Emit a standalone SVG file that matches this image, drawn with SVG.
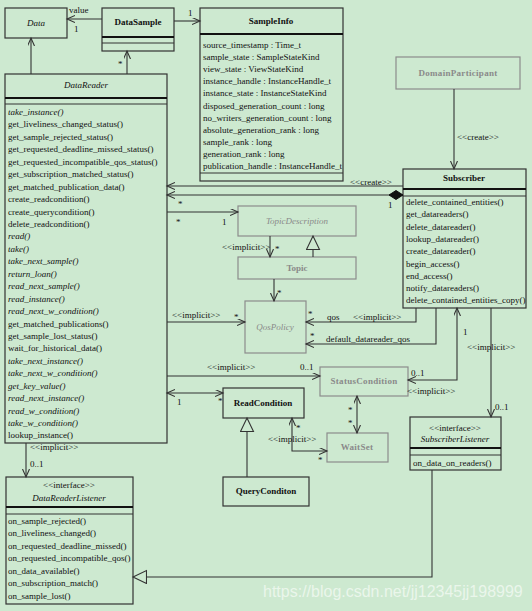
<svg xmlns="http://www.w3.org/2000/svg" width="532" height="611" viewBox="0 0 532 611">
<style>
text{font-family:"Liberation Serif","Times New Roman",serif;font-size:9px;fill:#111}
.b{font-weight:bold}
.i{font-style:italic}
.c{text-anchor:middle}
.g{fill:#8a8a8a}
.box{fill:none;stroke:#333;stroke-width:1.2}
.gbox{fill:none;stroke:#8c8c8c;stroke-width:1.2}
.thick{stroke:#111;stroke-width:2}
.sep{stroke:#333;stroke-width:1}
.conn path{fill:none;stroke:#333;stroke-width:1.1}
.a{marker-end:url(#arr)}
.aa{marker-start:url(#arr);marker-end:url(#arr)}
.t{marker-end:url(#tri)}
.wm{font-family:"Liberation Sans",Arial,sans-serif;font-size:16px;fill:#ffffff;fill-opacity:0.6}
</style>
<defs>
<marker id="arr" markerWidth="10" markerHeight="10" refX="8" refY="3.5" orient="auto-start-reverse" markerUnits="userSpaceOnUse">
<path d="M0,0 L8,3.5 L0,7" fill="none" stroke="#333" stroke-width="1.1"/>
</marker>
<marker id="tri" markerWidth="16" markerHeight="16" refX="14" refY="7" orient="auto" markerUnits="userSpaceOnUse">
<path d="M0.5,0.5 L14,7 L0.5,13.5 z" fill="#cde9d0" stroke="#333" stroke-width="1.1"/>
</marker>
<marker id="dia" markerWidth="16" markerHeight="12" refX="15" refY="5" orient="auto" markerUnits="userSpaceOnUse">
<path d="M1,5 L8,0.5 L15,5 L8,9.5 z" fill="#111" stroke="#111"/>
</marker>
</defs>
<rect width="532" height="611" fill="#cde9d0"/>

<g id="Data">
<rect class="box" x="5" y="8" width="62" height="30"/>
<text class="i c" x="36" y="26">Data</text>
</g>
<g id="DataSample">
<rect class="box" x="102" y="8" width="72" height="43"/>
<line class="thick" x1="102" y1="37" x2="174" y2="37"/>
<line class="sep" x1="102" y1="43" x2="174" y2="43"/>
<text class="b c" x="138" y="25">DataSample</text>
</g>
<g id="SampleInfo">
<rect class="box" x="200" y="8" width="143" height="173"/>
<line class="thick" x1="200" y1="34" x2="343" y2="34"/>
<line class="sep" x1="200" y1="173" x2="343" y2="173"/>
<text class="b c" x="271" y="24">SampleInfo</text>
<text x="203" y="48">source_timestamp : Time_t</text>
<text x="203" y="60.1">sample_state : SampleStateKind</text>
<text x="203" y="72.2">view_state : ViewStateKind</text>
<text x="203" y="84.3">instance_handle : InstanceHandle_t</text>
<text x="203" y="96.4">instance_state : InstanceStateKind</text>
<text x="203" y="108.5">disposed_generation_count : long</text>
<text x="203" y="120.6">no_writers_generation_count : long</text>
<text x="203" y="132.7">absolute_generation_rank : long</text>
<text x="203" y="144.8">sample_rank : long</text>
<text x="203" y="156.9">generation_rank : long</text>
<text x="203" y="169">publication_handle : InstanceHandle_t</text>
</g>
<g id="DataReader">
<rect class="box" x="5" y="74" width="162" height="369"/>
<line class="thick" x1="5" y1="98" x2="167" y2="98"/>
<line class="sep" x1="5" y1="104" x2="167" y2="104"/>
<text class="i c" x="86" y="88">DataReader</text>
<text x="8" y="115" class="i">take_instance()</text>
<text x="8" y="127.4">get_liveliness_changed_status()</text>
<text x="8" y="139.9">get_sample_rejected_status()</text>
<text x="8" y="152.3">get_requested_deadline_missed_status()</text>
<text x="8" y="164.8">get_requested_incompatible_qos_status()</text>
<text x="8" y="177.2">get_subscription_matched_status()</text>
<text x="8" y="189.6">get_matched_publication_data()</text>
<text x="8" y="202.1">create_readcondition()</text>
<text x="8" y="214.5">create_querycondition()</text>
<text x="8" y="227">delete_readcondition()</text>
<text x="8" y="239.4" class="i">read()</text>
<text x="8" y="251.8" class="i">take()</text>
<text x="8" y="264.3" class="i">take_next_sample()</text>
<text x="8" y="276.7" class="i">return_loan()</text>
<text x="8" y="289.2" class="i">read_next_sample()</text>
<text x="8" y="301.6" class="i">read_instance()</text>
<text x="8" y="314" class="i">read_next_w_condition()</text>
<text x="8" y="326.5">get_matched_publications()</text>
<text x="8" y="338.9">get_sample_lost_status()</text>
<text x="8" y="351.4">wait_for_historical_data()</text>
<text x="8" y="363.8" class="i">take_next_instance()</text>
<text x="8" y="376.2" class="i">take_next_w_condition()</text>
<text x="8" y="388.7" class="i">get_key_value()</text>
<text x="8" y="401.1" class="i">read_next_instance()</text>
<text x="8" y="413.6" class="i">read_w_condition()</text>
<text x="8" y="426" class="i">take_w_condition()</text>
<text x="8" y="438.4">lookup_instance()</text>
</g>
<g id="DomainParticipant">
<rect class="gbox" x="396" y="57" width="124" height="32"/>
<text class="b c g" x="458" y="76" letter-spacing="0.3">DomainParticipant</text>
</g>
<g id="Subscriber">
<rect class="box" x="403" y="169" width="123" height="139"/>
<line class="thick" x1="403" y1="189" x2="526" y2="189"/>
<line class="sep" x1="403" y1="196" x2="526" y2="196"/>
<text class="b c" x="464" y="181">Subscriber</text>
<text x="406" y="205">delete_contained_entities()</text>
<text x="406" y="217.3">get_datareaders()</text>
<text x="406" y="229.6">delete_datareader()</text>
<text x="406" y="241.9">lookup_datareader()</text>
<text x="406" y="254.2">create_datareader()</text>
<text x="406" y="266.5">begin_access()</text>
<text x="406" y="278.8">end_access()</text>
<text x="406" y="291.1">notify_datareaders()</text>
<text x="406" y="303.4">delete_contained_entities_copy()</text>
</g>
<g id="TopicDescription">
<rect class="gbox" x="238" y="206" width="118" height="30"/>
<text class="i c g" x="297" y="224">TopicDescription</text>
</g>
<g id="Topic">
<rect class="gbox" x="238" y="257" width="118" height="22"/>
<text class="b c g" x="297" y="271">Topic</text>
</g>
<g id="QosPolicy">
<rect class="gbox" x="245" y="301" width="61" height="52"/>
<text class="i c g" x="275" y="330">QosPolicy</text>
</g>
<g id="StatusCondition">
<rect class="gbox" x="320" y="367" width="88" height="29"/>
<text class="b c g" x="364" y="384" letter-spacing="0.3">StatusCondition</text>
</g>
<g id="WaitSet">
<rect class="gbox" x="327" y="433" width="61" height="29"/>
<text class="b c g" x="357" y="450" letter-spacing="0.3">WaitSet</text>
</g>
<g id="ReadCondition">
<rect class="box" x="223" y="388" width="81" height="30"/>
<text class="b c" x="263" y="406">ReadCondition</text>
</g>
<g id="QueryConditon">
<rect class="box" x="223" y="477" width="86" height="29"/>
<text class="b c" x="266" y="494">QueryConditon</text>
</g>
<g id="SubscriberListener">
<rect class="box" x="410" y="417" width="91" height="53"/>
<line class="thick" x1="410" y1="448" x2="501" y2="448"/>
<line class="sep" x1="410" y1="455" x2="501" y2="455"/>
<text class="c" x="455" y="431">&lt;&lt;interface&gt;&gt;</text>
<text class="i c" x="455" y="442">SubscriberListener</text>
<text x="413" y="466">on_data_on_readers()</text>
</g>
<g id="DataReaderListener">
<rect class="box" x="6" y="477" width="127" height="127"/>
<line class="thick" x1="6" y1="507" x2="133" y2="507"/>
<line class="sep" x1="6" y1="514" x2="133" y2="514"/>
<text class="c" x="69" y="488">&lt;&lt;interface&gt;&gt;</text>
<text class="i c" x="69" y="501">DataReaderListener</text>
<text x="8" y="524">on_sample_rejected()</text>
<text x="8" y="536.4">on_liveliness_changed()</text>
<text x="8" y="548.9">on_requested_deadline_missed()</text>
<text x="8" y="561.3">on_requested_incompatible_qos()</text>
<text x="8" y="573.8">on_data_available()</text>
<text x="8" y="586.2">on_subscription_match()</text>
<text x="8" y="598.6">on_sample_lost()</text>
</g>

<g id="connectors" class="conn">
<path class="a" d="M102,19 L67,19"/>
<path class="a" d="M174,21 L200,21"/>
<path class="a" d="M31,74 L31,38"/>
<path class="a" d="M127,74 L127,51"/>
<path class="a" d="M454,89 L454,169"/>
<path class="a" d="M403,186 L167,186"/>
<path d="M167,195 L403,195" marker-start="url(#arr)" marker-end="url(#dia)"/>
<path class="a" d="M167,212 L238,212"/>
<path class="a" d="M270,236 L270,257"/>
<path class="t" d="M313,257 L313,236"/>
<path class="a" d="M274,279 L274,301"/>
<path class="a" d="M167,322 L245,322"/>
<path class="a" d="M416,308 L416,322 L306,322"/>
<path class="a" d="M436,308 L436,344 L306,344"/>
<path class="a" d="M167,376 L320,376"/>
<path class="aa" d="M167,393 L223,393"/>
<path class="t" d="M247,477 L247,418"/>
<path class="aa" d="M292,418 L292,451 L327,451"/>
<path class="aa" d="M357,396 L357,433"/>
<path class="aa" d="M457,308 L457,380 L408,380"/>
<path class="a" d="M491,308 L491,417"/>
<path class="a" d="M26,443 L26,477"/>
<path class="t" d="M432,470 L432,577 L133,577"/>
<text x="69" y="13">value</text>
<text x="74" y="32">1</text>
<text x="188" y="16">1</text>
<text x="118" y="67">*</text>
<text x="457" y="140">&lt;&lt;create&gt;&gt;</text>
<text x="350" y="185">&lt;&lt;create&gt;&gt;</text>
<text x="388" y="208">1</text>
<text x="178" y="207">*</text>
<text x="176" y="225">*</text>
<text x="222" y="225">1</text>
<text x="222" y="250">&lt;&lt;implicit&gt;&gt;</text>
<text x="275" y="252">*</text>
<text x="277" y="296">*</text>
<text x="172" y="318">&lt;&lt;implicit&gt;&gt;</text>
<text x="234" y="320">*</text>
<text x="308" y="317">*</text>
<text x="327" y="320">qos</text>
<text x="353" y="320">&lt;&lt;implicit&gt;&gt;</text>
<text x="310" y="339">*</text>
<text x="326" y="342">default_datareader_qos</text>
<text x="207" y="370">&lt;&lt;implicit&gt;&gt;</text>
<text x="300" y="370">0..1</text>
<text x="177" y="405">1</text>
<text x="218" y="404">*</text>
<text x="296" y="431">*</text>
<text x="268" y="442">&lt;&lt;implicit&gt;&gt;</text>
<text x="318" y="463">*</text>
<text x="348" y="413">*</text>
<text x="348" y="426">*</text>
<text x="463" y="335">1</text>
<text x="411" y="376">0..1</text>
<text x="407" y="394">&lt;&lt;implicit&gt;&gt;</text>
<text x="467" y="350">&lt;&lt;implicit&gt;&gt;</text>
<text x="495" y="410">0..1</text>
<text x="30" y="450">&lt;&lt;implicit&gt;&gt;</text>
<text x="30" y="467">0..1</text>
</g>
<text class="wm" x="263" y="597">https://blog.csdn.net/jj12345jj198999</text>
</svg>
